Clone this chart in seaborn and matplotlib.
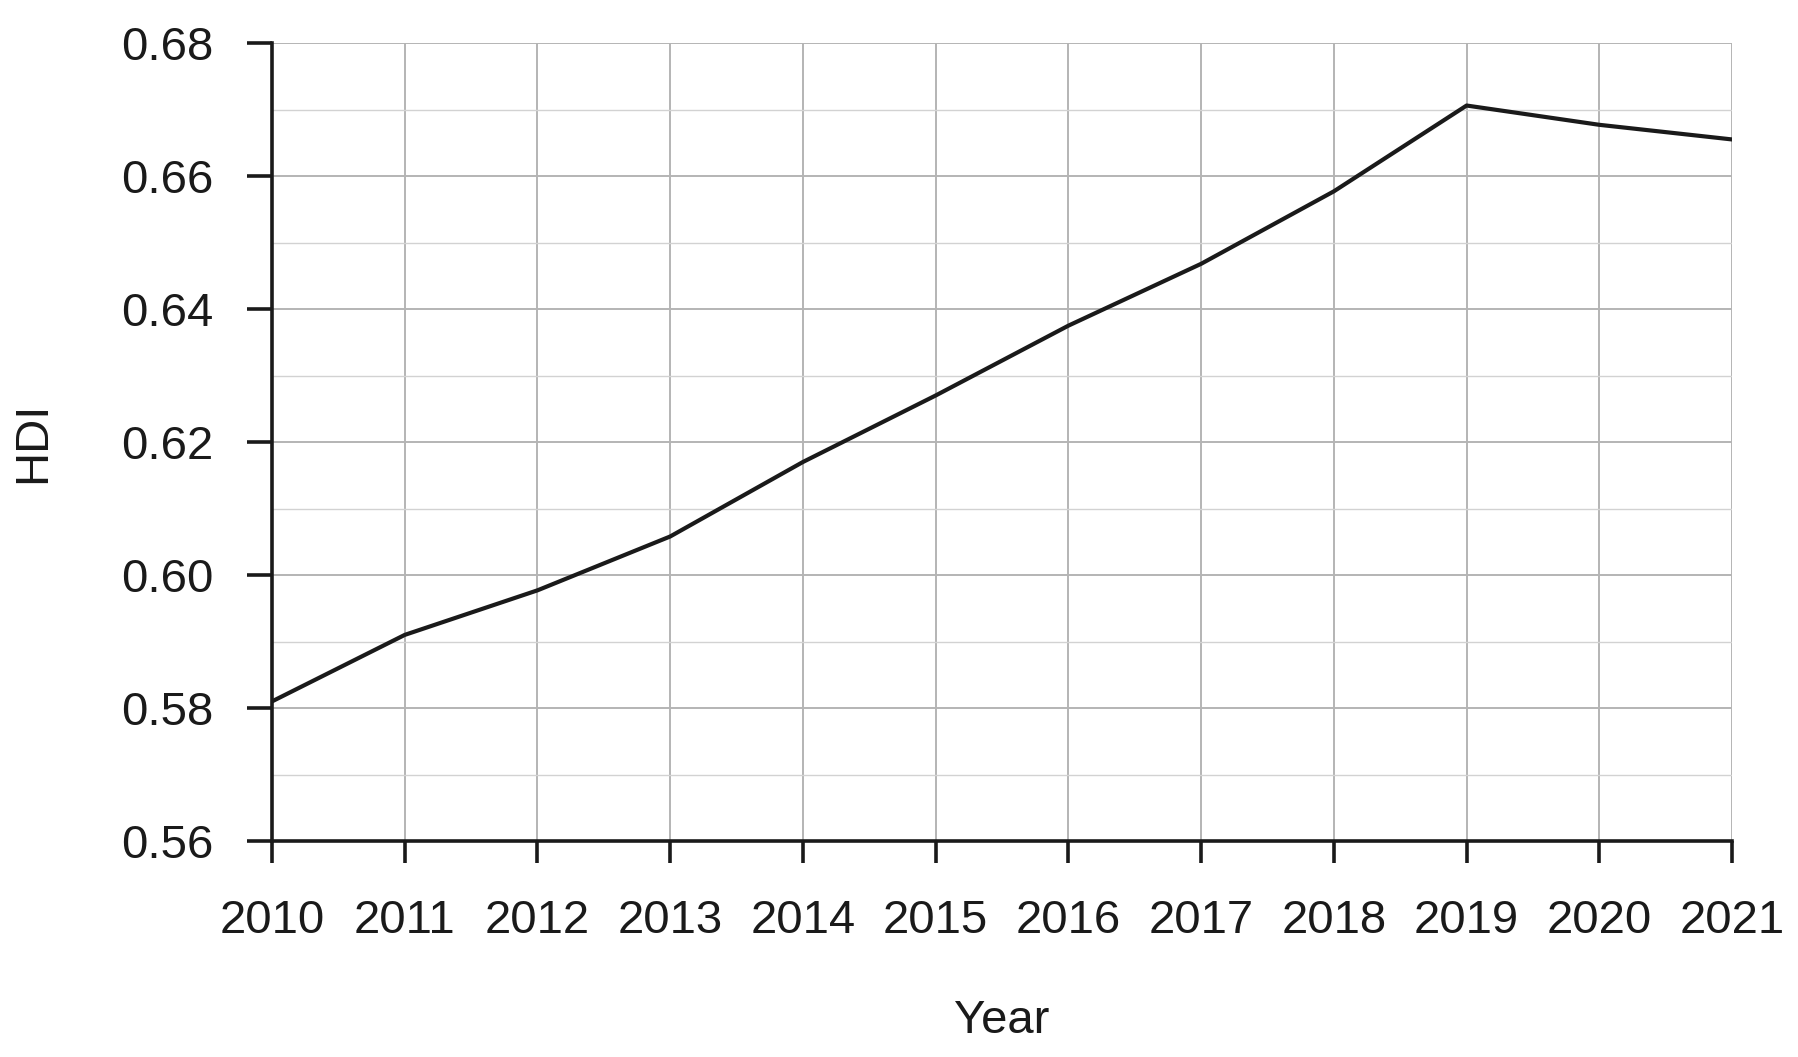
import numpy as np
import pandas as pd
import matplotlib
matplotlib.use("Agg")
import matplotlib.pyplot as plt
from matplotlib.ticker import MultipleLocator
import seaborn as sns

# HDI values
years = [2010, 2011, 2012, 2013, 2014, 2015, 2016, 2017, 2018, 2019, 2020, 2021]
hdi = [0.581, 0.591, 0.5977, 0.6058, 0.617, 0.627, 0.6375, 0.6468, 0.6577, 0.6706, 0.6677, 0.6655]
y_ticks = [0.56, 0.58, 0.60, 0.62, 0.64, 0.66, 0.68]

df = pd.DataFrame({"Year": years, "HDI": hdi})

sns.set_theme(style="white")
plt.rcParams['font.family'] = ['Liberation Sans', 'DejaVu Sans']
ink = "#1a1a1a"

fig = plt.figure(figsize=(17.99, 10.57), dpi=100)
ax = fig.add_axes([0.1512, 0.2043, 0.8116, 0.755])

sns.lineplot(data=df, x="Year", y="HDI", color=ink, linewidth=3.0, ax=ax, zorder=3)

ax.set_xlim(2010, 2021)
ax.set_ylim(0.56, 0.68)
ax.set_xticks(years)
ax.set_xticklabels([str(y) for y in years])
ax.set_yticks(y_ticks)
ax.set_yticklabels([f"{v:.2f}" for v in y_ticks])
ax.yaxis.set_minor_locator(MultipleLocator(0.01))

# grid
ax.set_axisbelow(True)
ax.grid(which="major", axis="both", color="#b4b4b4", linewidth=1.4)
ax.grid(which="minor", axis="y", color="#d2d2d2", linewidth=1.0)

# spines
for s in ["top", "right"]:
    ax.spines[s].set_visible(False)
for s in ["left", "bottom"]:
    ax.spines[s].set_color(ink)
    ax.spines[s].set_linewidth(2.6)
    ax.spines[s].set_zorder(4)

ax.tick_params(axis="x", which="major", direction="out", length=16, width=2.6,
               color=ink, labelsize=34, labelcolor=ink, pad=26, bottom=True)
ax.tick_params(axis="y", which="major", direction="out", length=18, width=2.6,
               color=ink, labelsize=34, labelcolor=ink, pad=24, left=True)
ax.tick_params(axis="y", which="minor", length=0)

ax.set_xlabel("Year", fontsize=34, color=ink, labelpad=40)
ax.set_ylabel("HDI", fontsize=34, color=ink, labelpad=48)

fig.savefig("out.png", dpi=100)
